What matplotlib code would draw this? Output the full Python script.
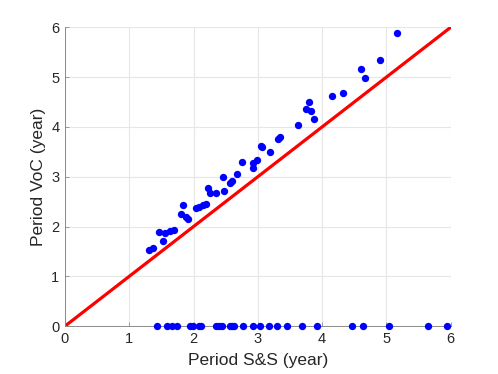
import matplotlib.pyplot as plt
import numpy as np

# periods where both methods detected a cycle
ss_period = [1.31, 1.37, 1.47, 1.52, 1.56, 1.63, 1.69, 1.83, 1.81, 1.88, 1.92,
             2.04, 2.09, 2.15, 2.20, 2.22, 2.26, 2.35, 2.46, 2.48, 2.56, 2.60,
             2.67, 2.76, 2.92, 2.92, 2.98, 3.05, 3.06, 3.19, 3.31, 3.34, 3.63,
             3.79, 3.75, 3.83, 3.87, 4.15, 4.32, 4.61, 4.67, 4.90, 5.17]
voc_period = [1.53, 1.57, 1.89, 1.71, 1.87, 1.91, 1.94, 2.43, 2.26, 2.20, 2.15,
              2.38, 2.40, 2.44, 2.46, 2.77, 2.68, 2.67, 3.00, 2.72, 2.87, 2.91,
              3.05, 3.30, 3.17, 3.28, 3.33, 3.61, 3.59, 3.49, 3.75, 3.79, 4.03,
              4.50, 4.35, 4.32, 4.16, 4.63, 4.68, 5.16, 4.99, 5.34, 5.89]

# periods found by S&S only (VoC gives zero)
ss_only = [1.43, 1.59, 1.66, 1.74, 1.95, 1.99, 2.08, 2.11, 2.35, 2.40, 2.44,
           2.56, 2.60, 2.63, 2.77, 2.92, 3.04, 3.17, 3.30, 3.45, 3.68, 3.92,
           4.47, 4.63, 5.04, 5.65, 5.94]

plt.rcParams['font.family'] = ['Liberation Sans', 'DejaVu Sans']

fig = plt.figure(figsize=(4.98, 3.74), dpi=100)
ax = fig.add_axes([0.1305, 0.128, 0.7745, 0.799])

ax.plot([0, 6], [0, 6], color='red', linewidth=2.3, zorder=2)
ax.scatter(ss_period, voc_period, s=28, color='blue', zorder=3, linewidths=0)
ax.scatter(ss_only, np.zeros(len(ss_only)), s=28, color='blue', zorder=3,
           linewidths=0, clip_on=False)

ax.set_xlim(0, 6)
ax.set_ylim(0, 6)
ax.set_xticks(range(7))
ax.set_yticks(range(7))
ax.grid(True, color='#e6e6e6', linewidth=0.8)
ax.set_axisbelow(True)

for side in ['top', 'right']:
    ax.spines[side].set_visible(False)
for side in ['left', 'bottom']:
    ax.spines[side].set_color('#8c8c8c')
    ax.spines[side].set_linewidth(0.7)

ax.tick_params(direction='in', length=3, width=0.6, color='#8c8c8c',
               labelcolor='#262626', labelsize=10.5, pad=4)
ax.set_xlabel('Period S&S (year)', fontsize=12.5, color='#262626', labelpad=5)
ax.set_ylabel('Period VoC (year)', fontsize=12.5, color='#262626', labelpad=4)

plt.savefig('out.png', dpi=100)
